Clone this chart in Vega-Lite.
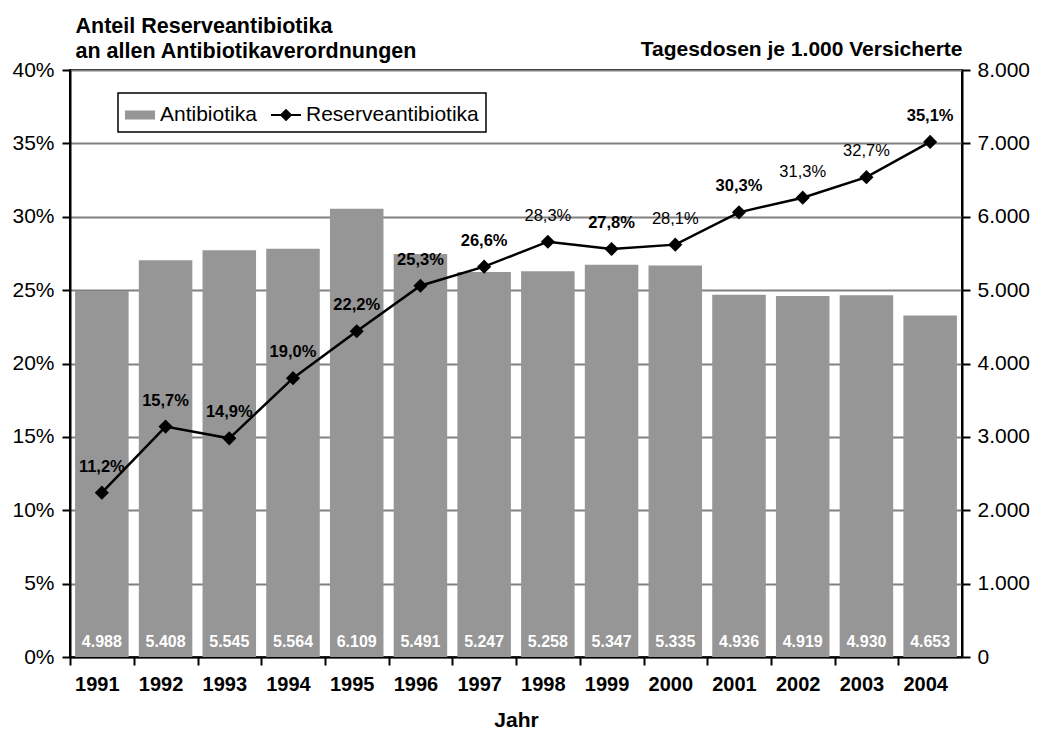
{
  "$schema": "https://vega.github.io/schema/vega-lite/v6.json",
  "width": 892,
  "height": 587,
  "autosize": "none",
  "padding": {"left": 70, "top": 70, "right": 76, "bottom": 72},
  "background": "white",
  "config": {
    "locale": {"number": {"decimal": ",", "thousands": ".", "grouping": [3], "currency": ["", " €"]}},
    "font": "Liberation Sans",
    "view": {"stroke": "black", "strokeWidth": 2},
    "axis": {
      "labelFont": "Liberation Sans",
      "titleFont": "Liberation Sans",
      "labelColor": "black",
      "titleColor": "black",
      "domainColor": "black",
      "tickColor": "black",
      "domainWidth": 2,
      "tickWidth": 2
    }
  },
  "data": {
    "values": [
      {"Jahr": 1991, "Antibiotika": 4988, "Reserveanteil": 0.112},
      {"Jahr": 1992, "Antibiotika": 5408, "Reserveanteil": 0.157},
      {"Jahr": 1993, "Antibiotika": 5545, "Reserveanteil": 0.149},
      {"Jahr": 1994, "Antibiotika": 5564, "Reserveanteil": 0.190},
      {"Jahr": 1995, "Antibiotika": 6109, "Reserveanteil": 0.222},
      {"Jahr": 1996, "Antibiotika": 5491, "Reserveanteil": 0.253},
      {"Jahr": 1997, "Antibiotika": 5247, "Reserveanteil": 0.266},
      {"Jahr": 1998, "Antibiotika": 5258, "Reserveanteil": 0.283},
      {"Jahr": 1999, "Antibiotika": 5347, "Reserveanteil": 0.278},
      {"Jahr": 2000, "Antibiotika": 5335, "Reserveanteil": 0.281},
      {"Jahr": 2001, "Antibiotika": 4936, "Reserveanteil": 0.303},
      {"Jahr": 2002, "Antibiotika": 4919, "Reserveanteil": 0.313},
      {"Jahr": 2003, "Antibiotika": 4930, "Reserveanteil": 0.327},
      {"Jahr": 2004, "Antibiotika": 4653, "Reserveanteil": 0.351}
    ]
  },
  "encoding": {
    "x": {
      "field": "Jahr",
      "type": "ordinal",
      "scale": {"paddingInner": 0.16, "paddingOuter": 0.08},
      "axis": {
        "orient": "bottom",
        "labelAngle": 0,
        "labelFontSize": 20,
        "labelFontWeight": "bold",
        "labelBaseline": "alphabetic",
        "labelPadding": 25,
        "tickSize": 8,
        "bandPosition": 0,
        "tickOffset": -5,
        "title": "Jahr",
        "titleFontSize": 21,
        "titleFontWeight": "bold",
        "titleBaseline": "alphabetic",
        "titleY": 69
      }
    }
  },
  "layer": [
    {
      "layer": [
        {
          "mark": {"type": "bar"},
          "encoding": {
            "y": {
              "field": "Antibiotika",
              "type": "quantitative",
              "scale": {"domain": [0, 8000]},
              "axis": {
                "orient": "right",
                "values": [0, 1000, 2000, 3000, 4000, 5000, 6000, 7000, 8000],
                "format": ",d",
                "labelFontSize": 21,
                "tickSize": 8,
                "labelPadding": 7,
                "grid": false,
                "title": "Tagesdosen je 1.000 Versicherte",
                "titleAngle": 0,
                "titleAlign": "right",
                "titleBaseline": "alphabetic",
                "titleX": 0,
                "titleY": -15,
                "titleFontSize": 21,
                "titleFontWeight": "bold"
              }
            },
            "color": {
              "datum": "Antibiotika",
              "scale": {"domain": ["Antibiotika", "Reserveantibiotika"], "range": ["#969696", "#000000"]},
              "legend": {
                "title": null,
                "orient": "none",
                "legendX": 48,
                "legendY": 23,
                "direction": "horizontal",
                "fillColor": "white",
                "strokeColor": "black",
                "padding": 7,
                "labelFontSize": 21,
                "labelFont": "Liberation Sans",
                "labelColor": "black",
                "labelLimit": 400,
                "symbolSize": 900,
                "labelOffset": 5,
                "columnPadding": 14,
                "encode": {
                  "legend": {"update": {"strokeWidth": {"value": 1.5}}},
                  "symbols": {
                    "update": {
                      "shape": {"signal": "datum.value === 'Antibiotika' ? 'M-1,-0.3H1V0.3H-1Z' : 'M-1,-0.07H1V0.07H-1Z M0,-0.42L0.42,0L0,0.42L-0.42,0Z'"},
                      "fill": {"signal": "datum.value === 'Antibiotika' ? '#969696' : '#000000'"},
                      "stroke": {"value": "transparent"},
                      "strokeWidth": {"value": 0},
                      "opacity": {"value": 1},
                      "fillOpacity": {"value": 1}
                    }
                  }
                }
              }
            }
          }
        },
        {
          "mark": {"type": "text", "color": "white", "fontWeight": "bold", "fontSize": 16, "baseline": "alphabetic", "align": "center", "dy": -10},
          "encoding": {
            "y": {"datum": 0, "type": "quantitative"},
            "text": {"field": "Antibiotika", "type": "quantitative", "format": ",d"}
          }
        }
      ]
    },
    {
      "layer": [
        {
          "mark": {"type": "line", "strokeWidth": 2.5},
          "encoding": {
            "y": {
              "field": "Reserveanteil",
              "type": "quantitative",
              "scale": {"domain": [0, 0.4]},
              "axis": {
                "orient": "left",
                "values": [0, 0.05, 0.1, 0.15, 0.2, 0.25, 0.3, 0.35, 0.4],
                "format": ".0%",
                "labelFontSize": 21,
                "tickSize": 8,
                "labelPadding": 8,
                "grid": true,
                "gridColor": "#808080",
                "gridWidth": 2,
                "title": ["Anteil Reserveantibiotika", "an allen Antibiotikaverordnungen"],
                "titleAngle": 0,
                "titleAlign": "left",
                "titleBaseline": "alphabetic",
                "titleX": 5,
                "titleY": -38,
                "titleLineHeight": 25,
                "titleFontSize": 21.5,
                "titleFontWeight": "bold"
              }
            },
            "color": {"datum": "Reserveantibiotika"}
          }
        },
        {
          "mark": {"type": "point", "shape": "diamond", "filled": true, "size": 200, "color": "black", "opacity": 1},
          "encoding": {
            "y": {"field": "Reserveanteil", "type": "quantitative"}
          }
        },
        {
          "transform": [{"filter": "indexof([1998, 2000, 2002, 2003], datum.Jahr) < 0"}],
          "mark": {"type": "text", "color": "black", "fontWeight": "bold", "fontSize": 16.5, "baseline": "alphabetic", "align": "center", "dy": -21},
          "encoding": {
            "y": {"field": "Reserveanteil", "type": "quantitative"},
            "text": {"field": "Reserveanteil", "type": "quantitative", "format": ".1%"}
          }
        },
        {
          "transform": [{"filter": "indexof([1998, 2000, 2002, 2003], datum.Jahr) >= 0"}],
          "mark": {"type": "text", "color": "black", "fontWeight": "normal", "fontSize": 16.5, "baseline": "alphabetic", "align": "center", "dy": -21},
          "encoding": {
            "y": {"field": "Reserveanteil", "type": "quantitative"},
            "text": {"field": "Reserveanteil", "type": "quantitative", "format": ".1%"}
          }
        }
      ]
    }
  ],
  "resolve": {"scale": {"y": "independent"}}
}
